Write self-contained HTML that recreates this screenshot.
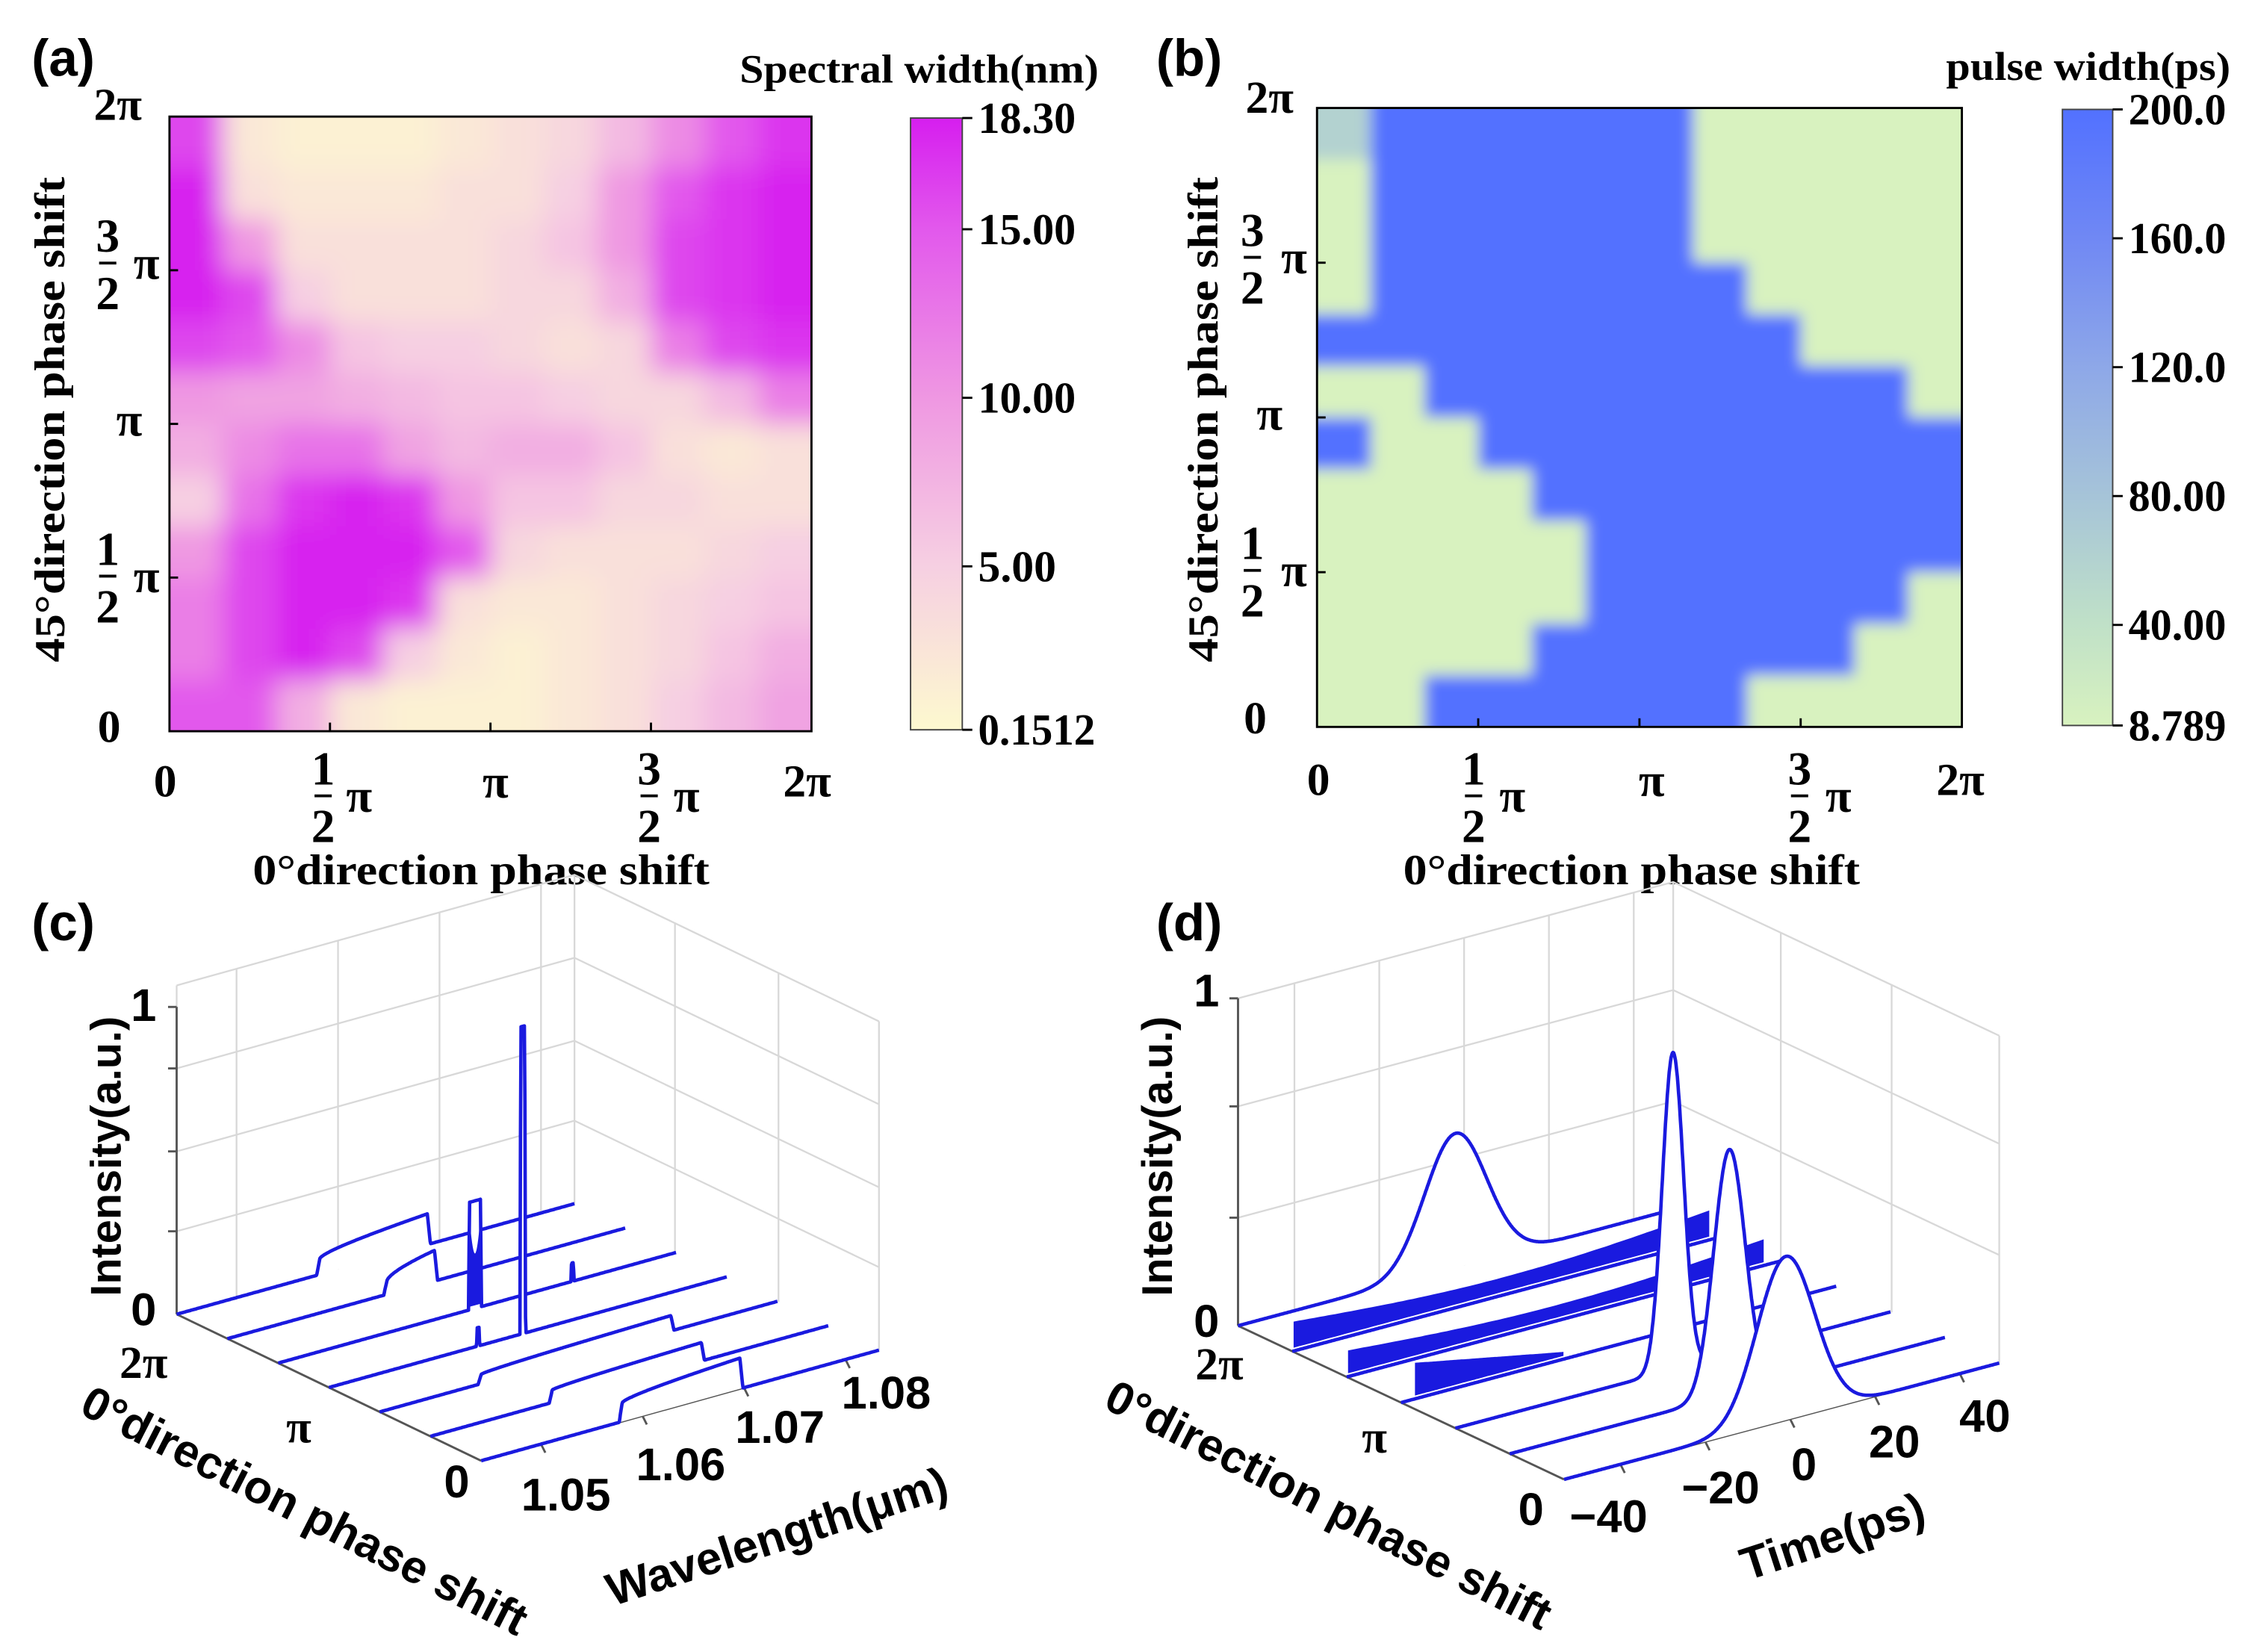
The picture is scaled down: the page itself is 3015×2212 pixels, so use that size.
<!DOCTYPE html>
<html><head><meta charset="utf-8"><title>Phase shift maps and waterfall plots</title>
<style>html,body{margin:0;padding:0;background:#fff}svg{display:block}</style></head>
<body>
<svg id="fig" xmlns="http://www.w3.org/2000/svg" width="3015" height="2212" viewBox="0 0 1568 1150">
<defs>
<filter id="blurA" x="-10%" y="-10%" width="120%" height="120%"><feGaussianBlur stdDeviation="9"/></filter>
<filter id="blurB" x="-10%" y="-10%" width="120%" height="120%"><feGaussianBlur stdDeviation="5"/></filter>
<clipPath id="clipA"><rect x="118" y="81" width="447" height="428"/></clipPath>
<clipPath id="clipB"><rect x="917" y="75" width="449" height="431"/></clipPath>
<linearGradient id="gradA" x1="0" y1="1" x2="0" y2="0">
<stop offset="0" stop-color="#fdf9cf"/><stop offset="0.27" stop-color="#f6cfe2"/><stop offset="0.54" stop-color="#ef98e2"/><stop offset="0.82" stop-color="#e258ec"/><stop offset="1" stop-color="#d61eef"/></linearGradient>
<linearGradient id="gradB" x1="0" y1="1" x2="0" y2="0">
<stop offset="0" stop-color="#d8f2bf"/><stop offset="0.17" stop-color="#bfe0c8"/><stop offset="0.37" stop-color="#a6c4d8"/><stop offset="0.58" stop-color="#8ea8e8"/><stop offset="0.79" stop-color="#7088f4"/><stop offset="1" stop-color="#5271ff"/></linearGradient>
</defs>
</svg>
<script>
// ---------- data ----------
const aValues = [
[16,2,1,1,1,2,3,4,7,11,15,17],
[18,3,2,2,2,3,3,5,10,15,17,18],
[18,10,3,3,3,3,4,6,10,16,17,18],
[18,16,5,3,3,3,4,4,8,16,17,18],
[16,15,11,6,5,5,4,3,4,12,16,17],
[10,9,9,8,7,6,6,5,4,4,7,12],
[8,11,13,13,9,7,8,8,6,3,2,3],
[5,13,17,18,17,10,6,6,4,4,3,3],
[10,16,18,18,18,15,4,3,3,3,4,5],
[12,16,18,18,17,3,2,2,3,4,5,6],
[12,16,18,16,5,2,1,2,3,4,6,8],
[15,15,8,2,1,1,1,2,3,5,7,9]];
const aTicks = [0.1512, 5, 10, 15, 18.3];
const aTickLabels = ["0.1512","5.00","10.00","15.00","18.30"];
const G = 8.789, B = 200;
const bValues = [
[60,B,B,B,B,B,B,G,G,G,G,G],
[G,B,B,B,B,B,B,G,G,G,G,G],
[G,B,B,B,B,B,B,G,G,G,G,G],
[G,B,B,B,B,B,B,B,G,G,G,G],
[B,B,B,B,B,B,B,B,B,G,G,G],
[G,G,B,B,B,B,B,B,B,B,B,G],
[B,G,G,B,B,B,B,B,B,B,B,B],
[G,G,G,G,B,B,B,B,B,B,B,B],
[G,G,G,G,G,B,B,B,B,B,B,B],
[G,G,G,G,G,B,B,B,B,B,B,G],
[G,G,G,G,B,B,B,B,B,B,G,G],
[G,G,B,B,B,B,B,B,G,G,G,G]];
const bTicks = [8.789, 40, 80, 120, 160, 200];
const bTickLabels = ["8.789","40.00","80.00","120.0","160.0","200.0"];

// (c) spectra per trace (0 = back / 2π, 6 = front / 0)
const cPlateauStart = [1.0582,1.0598,null,null,1.0541,1.0561,1.058];
const cPlateauEnd   = [1.0688,1.0645,null,null,1.0728,1.0708,1.0696];
const cPlateauLow   = [0.05,0.04,0,0,0.03,0.04,0.06];
const cPlateauHigh  = [0.10,0.10,0,0,0.05,0.06,0.10];
const cSpikeCenter  = [null,null,1.0635,1.0632,null,null,null];
const cSpikeWidth   = [0,0,0.0011,0.0004,0,0,0];
const cSpikeHeight  = [0,0,0.35,1.0,0,0,0];
const cSmallCenter  = [null,null,1.0731,1.0588,null,null,null];
const cSmallHeight  = [0,0,0.06,0.06,0,0,0];
const cWaveTicks = [1.05,1.06,1.07,1.08];
const cPhaseLabels = ["2π","π","0"];

// (d) pulses per trace
const dPeakCenter = [-2,null,null,null,-2,-1.5,-1];
const dPeakHeight = [0.41,0,0,0,0.97,0.75,0.5];
const dPeakSigma  = [7.3,0,0,0,2.5,3.7,6.8];
const dNoiseStart = [null,-53,-53,-50,null,null,null];
const dNoiseEnd   = [null,45,45,-15,null,null,null];
const dNoiseAmp   = [0,0.09,0.08,0.11,0,0,0];
const dTimeTicks = [-40,-20,0,20,40];
const dTimeLabels = ["−40","−20","0","20","40"];

// ---------- helpers ----------
const svg = document.getElementById('fig');
const NS = 'http://www.w3.org/2000/svg';
function mk(tag, attrs, parent){ const e=document.createElementNS(NS,tag); for(const k in attrs) e.setAttribute(k,attrs[k]); (parent||svg).appendChild(e); return e; }
function txt(x,y,s,size,fam,anchor,parent,extra){
  const e=mk('text',Object.assign({x:x,y:y,'font-size':size,'font-family':fam,'font-weight':'bold','text-anchor':anchor||'middle','dominant-baseline':'central',fill:'#000'},extra||{}),parent);
  e.textContent=s; return e; }
const SERIF='"Liberation Serif", "DejaVu Serif", serif';
const SANS='"Liberation Sans", "DejaVu Sans", sans-serif';

function fracLabel(g,fx,bar,num,px){
  let t=txt(fx,bar-19,num,33,SERIF,'middle',g);
  
  
  let l=mk('line',{x1:fx-6,x2:fx+6,y1:bar,y2:bar,stroke:'#000','stroke-width':2},g);
  
  
  t=txt(fx,bar+21,'2',33,SERIF,'middle',g);
  
  
  t=txt(px,bar,'π',33,SERIF,'middle',g);
  
  
}

// ---------- panel labels ----------
[['(a)',22,40],['(b)',805,40],['(c)',22,642],['(d)',805,642]].forEach(p=>{
  const t=txt(p[1],p[2],p[0],36,SANS,'start');
  
  
});

// ---------- heatmap ----------
function heatmap(cfg){
  const g=mk('g',{});
  
  
  const rows=cfg.values.length, cols=cfg.values[0].length;
  const cw=cfg.w/cols, ch=cfg.h/rows;
  const inner=mk('g',{'clip-path':'url(#'+cfg.clip+')'},g);
  const bl=mk('g',{filter:'url(#'+cfg.blur+')'},inner);
  for(let r=0;r<rows;r++) for(let c=0;c<cols;c++){
    let x=cfg.x+c*cw, y=cfg.y+r*ch, w=cw+0.6, h=ch+0.6;
    if(c===0){x-=20;w+=20;} if(c===cols-1){w+=20;}
    if(r===0){y-=20;h+=20;} if(r===rows-1){h+=20;}
    const rc=mk('rect',{x:x,y:y,width:w,height:h,fill:cfg.color(cfg.values[r][c])},bl);
    
    
  }
  const fr=mk('rect',{x:cfg.x,y:cfg.y,width:cfg.w,height:cfg.h,fill:'none',stroke:'#000','stroke-width':1.5},g);
  
  
  for(let i=1;i<4;i++){
    const tx=cfg.x+cfg.w*i/4;
    const a=mk('line',{x1:tx,x2:tx,y1:cfg.y+cfg.h,y2:cfg.y+cfg.h-6,stroke:'#000','stroke-width':1.5},g);
    
    
    const ty=cfg.y+cfg.h*i/4;
    const b=mk('line',{x1:cfg.x,x2:cfg.x+6,y1:ty,y2:ty,stroke:'#000','stroke-width':1.5},g);
    
    
  }
  return g;
}
function lerpColor(stops,v){
  for(let i=0;i<stops.length-1;i++){
    const a=stops[i],b=stops[i+1];
    if(v<=b[0]||i===stops.length-2){
      let t=(v-a[0])/(b[0]-a[0]); t=Math.max(0,Math.min(1,t));
      const c=[0,1,2].map(k=>Math.round(a[1][k]+(b[1][k]-a[1][k])*t));
      return 'rgb('+c.join(',')+')';
    }
  }
}
const aStops=[[0,[253,249,207]],[5,[246,207,226]],[10,[239,152,226]],[15,[226,88,236]],[18.3,[214,30,239]]];
const bStops=[[8.789,[216,242,191]],[40,[191,224,200]],[80,[166,196,216]],[120,[142,168,232]],[160,[112,136,244]],[200,[82,113,255]]];

heatmap({name:'spectral-width-heatmap',values:aValues,x:118,y:81,w:447,h:428,clip:'clipA',blur:'blurA',color:v=>lerpColor(aStops,v)});
heatmap({name:'pulse-width-heatmap',values:bValues,x:917,y:75,w:449,h:431,clip:'clipB',blur:'blurB',color:v=>lerpColor(bStops,v)});

function phaseAxes(o){
  const g=mk('g',{});
  
  
  let t=txt(o.y2pi[0],o.y2pi[1],'2π',32,SERIF,'middle',g);
   
  fracLabel(g,o.yFracX,o.y32,'3',o.yPiX);
  t=txt(o.yPi[0],o.yPi[1],'π',33,SERIF,'middle',g);
   
  fracLabel(g,o.yFracX,o.y12,'1',o.yPiX);
  t=txt(o.y0[0],o.y0[1],'0',32,SERIF,'middle',g);
   
  t=txt(o.x0,o.xRow,'0',32,SERIF,'middle',g);
   
  fracLabel(g,o.x12[0],o.xBar,'1',o.x12[1]);
  t=txt(o.xPi,o.xRow,'π',33,SERIF,'middle',g);
   
  fracLabel(g,o.x32[0],o.xBar,'3',o.x32[1]);
  t=txt(o.x2pi,o.xRow,'2π',32,SERIF,'middle',g);
   
  t=txt(o.xt[0],o.xt[1],'0°direction phase shift',30,SERIF,'middle',g,{textLength:318,lengthAdjust:'spacingAndGlyphs'});
   
  t=txt(0,0,'45°direction phase shift',30,SERIF,'middle',g,{transform:'translate('+o.yt[0]+','+o.yt[1]+') rotate(-90)',textLength:338,lengthAdjust:'spacingAndGlyphs'});
   
}
phaseAxes({name:'axes-a',y2pi:[82,73],yFracX:75,yPiX:102,y32:183,yPi:[90,292],y12:401,y0:[76,506],
  x0:115,xRow:544,xBar:554,x12:[225,250],xPi:345,x32:[452,478],x2pi:562,xt:[335,606],yt:[35,292]});
phaseAxes({name:'axes-b',y2pi:[884,68],yFracX:872,yPiX:901,y32:179,yPi:[884,288],y12:397,y0:[874,500],
  x0:918,xRow:543,xBar:554,x12:[1026,1053],xPi:1150,x32:[1253,1280],x2pi:1365,xt:[1136,606],yt:[838,292]});

function colorbar(o){
  const g=mk('g',{});
  
  
  const r=mk('rect',{x:o.x,y:o.y0,width:o.w,height:o.y1-o.y0,fill:'url(#'+o.grad+')',stroke:'#444','stroke-width':1},g);
   
  const sc=v=>o.y1-(v-o.ticks[0])/(o.ticks[o.ticks.length-1]-o.ticks[0])*(o.y1-o.y0);
  o.ticks.forEach((v,i)=>{
    const y=sc(v);
    const l=mk('line',{x1:o.x+o.w,x2:o.x+o.w+7,y1:y,y2:y,stroke:'#000','stroke-width':1.5},g);
     
    const t=txt(o.lx,y,o.labels[i],31,SERIF,'start',g,{textLength:o.labels[i].length*13.6,lengthAdjust:'spacingAndGlyphs'});
     
  });
  const t=txt(o.tx,o.ty,o.title,28,SERIF,'end',g,{textLength:o.tl,lengthAdjust:'spacingAndGlyphs'});
   
}
colorbar({name:'colorbar-a',x:634,w:36,y0:82,y1:508,grad:'gradA',ticks:aTicks,labels:aTickLabels,lx:681,tx:765,ty:48,title:'Spectral width(nm)',tl:250});
colorbar({name:'colorbar-b',x:1436,w:35,y0:76,y1:505,grad:'gradB',ticks:bTicks,labels:bTickLabels,lx:1482,tx:1553,ty:46,title:'pulse width(ps)',tl:198});

// ---------- waterfall ----------
function waterfall(o){
  const g=mk('g',{});
  
  
  const n=o.n;
  const S=i=>[o.O[0]+(o.F[0]-o.O[0])*i/(n-1), o.O[1]+(o.F[1]-o.O[1])*i/(n-1)];
  const xs=v=>(v-o.d0)/(o.d1-o.d0);
  const P=(i,v,z)=>{const s=S(i),f=xs(v);return [s[0]+f*o.V[0], s[1]+f*o.V[1]-z*o.H];};
  const gray='#d8d8d8';
  const BK=o.O, BR=[o.O[0]+o.V[0],o.O[1]+o.V[1]], FR=[o.F[0]+o.V[0],o.F[1]+o.V[1]];
  o.zTicks.concat([o.zTop]).forEach(z=>{
    const l=mk('polyline',{points:[BK[0],BK[1]-z*o.H,BR[0],BR[1]-z*o.H,FR[0],FR[1]-z*o.H].join(' '),fill:'none',stroke:gray,'stroke-width':1.2},g);
     
  });
  o.xTicks.forEach(v=>{
    const f=xs(v), x=BK[0]+f*o.V[0], y=BK[1]+f*o.V[1];
    const l=mk('line',{x1:x,y1:y,x2:x,y2:y-o.zTop*o.H,stroke:gray,'stroke-width':1.2},g);
     
  });
  [0.33,0.67,1].forEach(f=>{
    const x=BR[0]+(FR[0]-BR[0])*f, y=BR[1]+(FR[1]-BR[1])*f;
    const l=mk('line',{x1:x,y1:y,x2:x,y2:y-o.zTop*o.H,stroke:gray,'stroke-width':1.2},g);
     
  });
  [BK,BR].forEach(p=>{
    const l=mk('line',{x1:p[0],y1:p[1],x2:p[0],y2:p[1]-o.zTop*o.H,stroke:gray,'stroke-width':1.2},g);
     
  });
  let l=mk('line',{x1:BK[0],y1:BK[1],x2:BK[0],y2:BK[1]-o.H,stroke:'#555','stroke-width':1.5},g);
   
  o.zTicks.concat([1]).forEach(z=>{
    const t=mk('line',{x1:BK[0],y1:BK[1]-z*o.H,x2:BK[0]-6,y2:BK[1]-z*o.H,stroke:'#555','stroke-width':1.5},g);
     
  });
  l=mk('line',{x1:BK[0],y1:BK[1],x2:o.F[0],y2:o.F[1],stroke:'#555','stroke-width':1.5},g);
   
  l=mk('line',{x1:o.F[0],y1:o.F[1],x2:FR[0],y2:FR[1],stroke:'#555','stroke-width':1.5},g);
   
  o.xTicks.forEach(v=>{
    const f=xs(v), x=o.F[0]+f*o.V[0], y=o.F[1]+f*o.V[1];
    const t=mk('line',{x1:x,y1:y,x2:x+3,y2:y+6,stroke:'#555','stroke-width':1.5},g);
     
  });
  for(let i=0;i<n;i++){
    const pts=[], N=700;
    for(let k=0;k<=N;k++){const v=o.d0+(o.d1-o.d0)*k/N; pts.push(P(i,v,o.f(i,v)));}
    const s0=P(i,o.d0,0), s1=P(i,o.d1,0);
    const poly=mk('polygon',{points:pts.map(p=>p[0].toFixed(1)+','+p[1].toFixed(1)).join(' ')+' '+s1.join(',')+' '+s0.join(','),fill:'#fff',stroke:'none'},g);
     
    if(o.band){
      const bd=o.band(i);
      if(bd){
        const up=[],dn=[];
        for(let k=0;k<=80;k++){const v=bd[0]+(bd[1]-bd[0])*k/80; const a=bd[2]*(bd[3]?(1-0.8*k/80):(1-0.4*Math.sin(Math.PI*k/80))); up.push(P(i,v,a)); dn.push(P(i,v,0.01));}
        const bp=mk('polygon',{points:up.concat(dn.reverse()).map(p=>p[0].toFixed(1)+','+p[1].toFixed(1)).join(' '),fill:'#1a1adf'},g);
         
      }
    }
    const pl=mk('polyline',{points:pts.map(p=>p[0].toFixed(1)+','+p[1].toFixed(1)).join(' '),fill:'none',stroke:'#1a1adf','stroke-width':2.4,'stroke-linejoin':'round'},g);
     
  }
  return g;
}
function topHat(v,c,w,edge){const d=Math.abs(v-c)-w/2; return d<=0?1:Math.max(0,1-d/edge);}

waterfall({name:'spectra-waterfall',n:7,O:[123,915],F:[335,1017],V:[277,-77],H:214,d0:1.0441,d1:1.0833,
  zTicks:[0.27,0.53,0.8],zTop:1.07,xTicks:cWaveTicks,
  f:(i,v)=>{
    let y=0;
    if(cPlateauStart[i]!==null){
      const a=cPlateauStart[i],b=cPlateauEnd[i];
      const w=topHat(v,(a+b)/2,b-a,0.0003);
      const fr=Math.max(0,Math.min(1,(v-a)/(b-a)));
      y+=w*(cPlateauLow[i]+(cPlateauHigh[i]-cPlateauLow[i])*Math.sqrt(fr));
    }
    if(cSpikeCenter[i]!==null) y+=cSpikeHeight[i]*topHat(v,cSpikeCenter[i],cSpikeWidth[i],0.00008);
    if(cSmallCenter[i]!==null) y+=cSmallHeight[i]*topHat(v,cSmallCenter[i],0.0002,0.00005);
    return y;},
  band:i=>i===2?[cSpikeCenter[i]-cSpikeWidth[i]/2,cSpikeCenter[i]+cSpikeWidth[i]/2,cSpikeHeight[i]*0.85,false]:null
});
waterfall({name:'pulses-waterfall',n:7,O:[862,923],F:[1089,1030],V:[303,-81],H:228,d0:-53.3,d1:49.3,
  zTicks:[0.33,0.67],zTop:1.0,xTicks:dTimeTicks,
  f:(i,v)=>{
    let y=0;
    if(dPeakCenter[i]!==null) y+=dPeakHeight[i]*Math.exp(-0.5*Math.pow((v-dPeakCenter[i])/dPeakSigma[i],2));
    return y;},
  band:i=>dNoiseStart[i]!==null?[dNoiseStart[i],dNoiseEnd[i],dNoiseAmp[i],i===3]:null
});

function lab(x,y,s,size,fam,name,extra){const t=txt(x,y,s,size,fam,'middle',svg,extra);return t;}
lab(100,700,'1',32,SANS,'c-z-tick-1'); lab(100,912,'0',32,SANS,'c-z-tick-0');
lab(100,949,cPhaseLabels[0],32,SERIF,'c-phase-tick-2pi'); lab(208,994,cPhaseLabels[1],32,SERIF,'c-phase-tick-pi'); lab(318,1032,cPhaseLabels[2],32,SANS,'c-phase-tick-0');
[[394,1041],[474,1020],[543,994],[617,970]].forEach((p,i)=>lab(p[0],p[1],cWaveTicks[i].toFixed(2),32,SANS,'c-wavelength-tick'));
lab(0,0,'Intensity(a.u.)',30,SANS,'c-z-axis-title',{transform:'translate(74,805) rotate(-90)'});
lab(0,0,'0°direction phase shift',32,SANS,'c-phase-axis-title',{transform:'translate(212,1052) rotate(27)'});
lab(0,0,'Wavelength(μm)',32,SANS,'c-wavelength-axis-title',{transform:'translate(541,1070) rotate(-18)'});

lab(840,690,'1',32,SANS,'d-z-tick-1'); lab(840,920,'0',32,SANS,'d-z-tick-0');
lab(849,950,'2π',32,SERIF,'d-phase-tick-2pi'); lab(957,1001,'π',32,SERIF,'d-phase-tick-pi'); lab(1066,1051,'0',32,SANS,'d-phase-tick-0');
[[1120,1056],[1198,1036],[1256,1020],[1319,1004],[1382,986]].forEach((p,i)=>lab(p[0],p[1],dTimeLabels[i],32,SANS,'d-time-tick'));
lab(0,0,'Intensity(a.u.)',30,SANS,'d-z-axis-title',{transform:'translate(806,805) rotate(-90)'});
lab(0,0,'0°direction phase shift',32,SANS,'d-phase-axis-title',{transform:'translate(925,1048) rotate(27)'});
lab(0,0,'Time(ps)',32,SANS,'d-time-axis-title',{transform:'translate(1276,1070) rotate(-18)'});
</script>
</body></html>
